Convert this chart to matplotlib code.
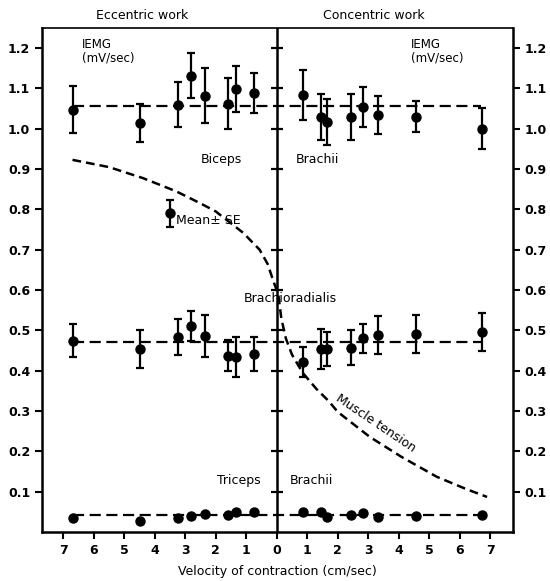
import numpy as np
import matplotlib.pyplot as plt

# velocities (cm/sec); eccentric work plotted on the negative side
ecc_v = [6.7, 4.5, 3.25, 2.8, 2.35, 1.6, 1.34, 0.75]
con_v = [0.85, 1.45, 1.65, 2.45, 2.82, 3.32, 4.57, 6.73]

# Biceps brachii IEMG (mV/sec), mean and SE
bic_ecc = [1.047, 1.015, 1.060, 1.132, 1.082, 1.062, 1.099, 1.089]
bic_ecc_se = [0.058, 0.047, 0.056, 0.056, 0.068, 0.063, 0.058, 0.050]
bic_con = [1.084, 1.030, 1.017, 1.030, 1.054, 1.035, 1.030, 1.000]
bic_con_se = [0.063, 0.057, 0.056, 0.057, 0.050, 0.047, 0.038, 0.051]

# Brachioradialis
bra_ecc = [0.474, 0.454, 0.484, 0.511, 0.486, 0.437, 0.434, 0.441]
bra_ecc_se = [0.041, 0.046, 0.044, 0.038, 0.052, 0.038, 0.050, 0.042]
bra_con = [0.422, 0.454, 0.454, 0.457, 0.481, 0.489, 0.491, 0.496]
bra_con_se = [0.038, 0.050, 0.043, 0.043, 0.036, 0.047, 0.048, 0.047]

# Triceps brachii
tri_ecc = [0.035, 0.027, 0.035, 0.040, 0.045, 0.042, 0.050, 0.050]
tri_con = [0.050, 0.050, 0.037, 0.042, 0.046, 0.038, 0.040, 0.042]

# overall means (dashed horizontal lines)
bic_mean = 1.057
bra_mean = 0.471
tri_mean = 0.042
mean_span = [-6.7, 6.7]

# muscle tension curve (relative units on the same scale)
tension_x = [-6.7, -5.5, -4.4, -3.3, -2.5, -2.0, -1.1, -0.56, -0.3, -0.1, 0.05,
             0.15, 0.3, 0.5, 0.85, 1.3, 1.7, 2.0, 3.05, 4.1, 5.25, 6.2, 6.9]
tension_y = [0.923, 0.905, 0.878, 0.845, 0.815, 0.795, 0.742, 0.700, 0.665, 0.620, 0.590,
             0.530, 0.480, 0.440, 0.395, 0.355, 0.325, 0.298, 0.236, 0.186, 0.137, 0.107, 0.087]

# legend sample (mean +- SE)
key_x, key_y, key_se = -3.5, 0.79, 0.033

xticks = [-7, -6, -5, -4, -3, -2, -1, 0, 1, 2, 3, 4, 5, 6, 7]
yticks = [0.1, 0.2, 0.3, 0.4, 0.5, 0.6, 0.7, 0.8, 0.9, 1.0, 1.1, 1.2]

fig = plt.figure(figsize=(5.5, 5.81), dpi=100)
ax = fig.add_axes([0.0764, 0.0843, 0.8563, 0.8675])

ex = -np.array(ecc_v)
cx = np.array(con_v)
eb = dict(fmt='o', color='black', ms=6.5, elinewidth=1.6, capsize=3, capthick=1.6, zorder=3)

ax.errorbar(ex, bic_ecc, yerr=bic_ecc_se, **eb)
ax.errorbar(cx, bic_con, yerr=bic_con_se, **eb)
ax.errorbar(ex, bra_ecc, yerr=bra_ecc_se, **eb)
ax.errorbar(cx, bra_con, yerr=bra_con_se, **eb)
ax.plot(ex, tri_ecc, 'o', color='black', ms=6.5, zorder=3)
ax.plot(cx, tri_con, 'o', color='black', ms=6.5, zorder=3)
ax.errorbar([key_x], [key_y], yerr=[key_se], **eb)

for m in (bic_mean, bra_mean, tri_mean):
    ax.plot(mean_span, [m, m], color='black', lw=1.6, dashes=(5, 2.5))

ax.plot(tension_x, tension_y, color='black', lw=1.8, dashes=(3.5, 2))

# central axis with ticks
ax.axvline(0, color='black', lw=1.8)
ax.plot([0] * len(yticks), yticks, ls='none', marker='_', ms=9, mew=1.6, color='black')

ax.set_xlim(-7.7, 7.75)
ax.set_ylim(0, 1.25)
ax.set_xticks(xticks)
ax.set_xticklabels([str(abs(t)) for t in xticks])
ax.set_yticks(yticks)
ax.set_yticklabels(['%.1f' % t for t in yticks])
ax.tick_params(axis='both', direction='out', length=5, width=1.5, labelsize=9)
ax.tick_params(axis='y', right=True, labelright=True)
for lab in ax.get_xticklabels() + ax.get_yticklabels():
    lab.set_fontweight('bold')
for s in ax.spines.values():
    s.set_linewidth(1.8)
ax.spines['top'].set_linewidth(1.2)

ax.set_xlabel('Velocity of contraction (cm/sec)', fontsize=9, labelpad=6)

tk = dict(fontsize=9, color='black')
ax.text(-4.4, 1.265, 'Eccentric work', ha='center', va='bottom', **tk)
ax.text(3.2, 1.265, 'Concentric work', ha='center', va='bottom', **tk)
ax.text(-6.4, 1.225, 'IEMG\n(mV/sec)', ha='left', va='top', fontsize=8.5, linespacing=1.0)
ax.text(4.4, 1.225, 'IEMG\n(mV/sec)', ha='left', va='top', fontsize=8.5, linespacing=1.0)
ax.text(-1.8, 0.925, 'Biceps', ha='center', va='center', **tk)
ax.text(1.35, 0.925, 'Brachii', ha='center', va='center', **tk)
ax.text(-3.3, 0.772, 'Mean± SE', ha='left', va='center', **tk)
ax.text(0.45, 0.58, 'Brachioradialis', ha='center', va='center', **tk)
ax.text(-1.25, 0.129, 'Triceps', ha='center', va='center', **tk)
ax.text(1.15, 0.129, 'Brachii', ha='center', va='center', **tk)
ax.text(3.25, 0.27, 'Muscle tension', ha='center', va='center', rotation=-34,
        rotation_mode='anchor', **tk)

fig.savefig('out.png', dpi=100)
